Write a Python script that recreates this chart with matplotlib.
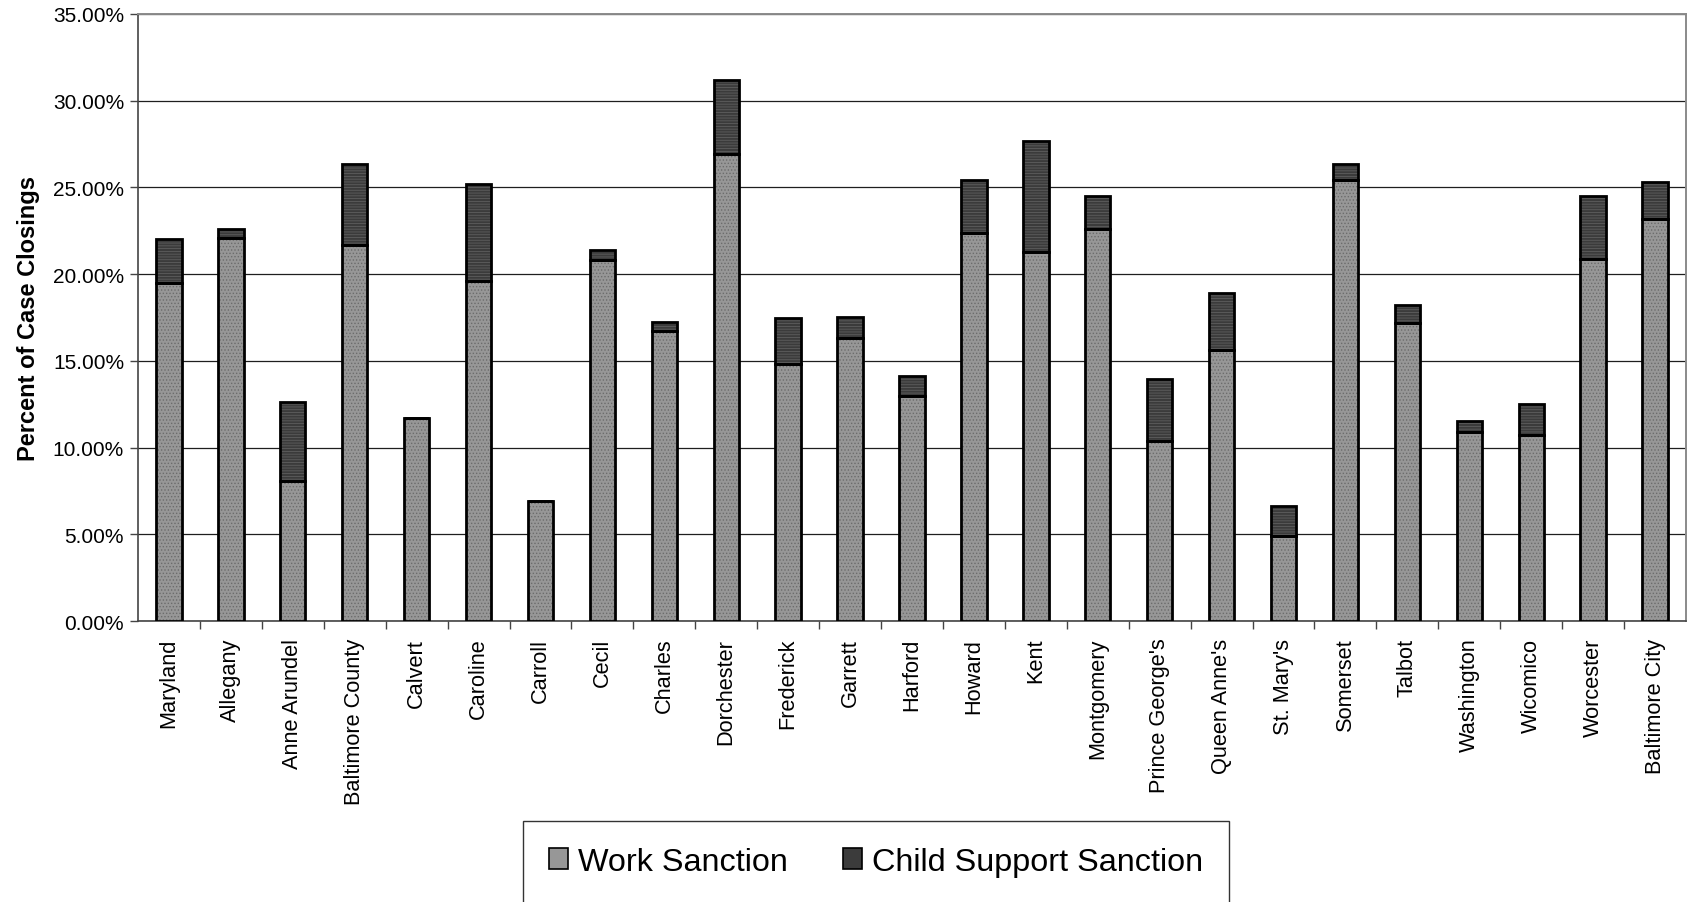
import matplotlib
matplotlib.use("Agg")
import matplotlib.pyplot as plt
from matplotlib.patches import Patch
from matplotlib.ticker import PercentFormatter

plt.rcParams['font.family'] = ['Liberation Sans', 'DejaVu Sans']
plt.rcParams['hatch.linewidth'] = 0.6

counties = ['Maryland', 'Allegany', 'Anne Arundel', 'Baltimore County', 'Calvert',
            'Caroline', 'Carroll', 'Cecil', 'Charles', 'Dorchester', 'Frederick',
            'Garrett', 'Harford', 'Howard', 'Kent', 'Montgomery', "Prince George's",
            "Queen Anne's", "St. Mary's", 'Somerset', 'Talbot', 'Washington',
            'Wicomico', 'Worcester', 'Baltimore City']

# percent of case closings
work = [19.5, 22.1, 8.1, 21.7, 11.7, 19.6, 6.9, 20.8, 16.7, 26.9, 14.8,
        16.3, 13.0, 22.4, 21.3, 22.6, 10.4, 15.6, 4.9, 25.4, 17.2, 10.9,
        10.7, 20.9, 23.2]
child = [2.5, 0.5, 4.5, 4.65, 0.0, 5.6, 0.0, 0.6, 0.55, 4.3, 2.7,
         1.25, 1.1, 3.0, 6.4, 1.9, 3.55, 3.3, 1.75, 0.95, 1.0, 0.65,
         1.8, 3.6, 2.1]

work_fill, work_hatch = '#979797', '#6c6c6c'
child_fill, child_hatch = '#3b3b3b', '#5e5e5e'

fig = plt.figure(figsize=(16.9, 9.03), dpi=100)
ax = fig.add_axes([138 / 1690, 1 - 622 / 903, (1686 - 138) / 1690, (622 - 15) / 903])

x = list(range(len(counties)))
w = 0.41

# fill with texture, then outline on top
ax.bar(x, work, w, color=work_fill, edgecolor=work_hatch, hatch='.....', linewidth=0, zorder=3)
ax.bar(x, child, w, bottom=work, color=child_fill, edgecolor=child_hatch, hatch='------',
       linewidth=0, zorder=3)
ax.bar(x, work, w, fill=False, edgecolor='black', linewidth=2.0, zorder=4)
ax.bar(x, child, w, bottom=work, fill=False, edgecolor='black', linewidth=2.0, zorder=4)

ax.set_xlim(-0.5, len(counties) - 0.5)
ax.set_ylim(0, 35)
ax.set_yticks(range(0, 36, 5))
ax.yaxis.set_major_formatter(PercentFormatter(decimals=2))
ax.yaxis.grid(True, color='#1e1e1e', linewidth=0.9, zorder=0)
ax.set_axisbelow(True)

ax.set_xticks(x)
ax.set_xticklabels(counties, rotation=90, fontsize=15.7)
ax.set_xticks([i + 0.5 for i in x[:-1]], minor=True)
ax.tick_params(axis='x', which='major', length=0, pad=12)
ax.tick_params(axis='x', which='minor', length=6, width=1, color='#444444', direction='out')
ax.tick_params(axis='y', labelsize=15, length=6, width=1, color='#444444', pad=4)

ax.set_ylabel('Percent of Case Closings', fontsize=17, fontweight='bold', labelpad=9)

for side in ['top', 'right']:
    ax.spines[side].set_color('#8a8a8a')
    ax.spines[side].set_linewidth(1.4)
ax.spines['left'].set_color('#444444')
ax.spines['bottom'].set_color('#444444')
ax.spines['left'].set_linewidth(1.2)
ax.spines['bottom'].set_linewidth(1.2)

handles = [Patch(facecolor=work_fill, edgecolor='black', linewidth=1.2),
           Patch(facecolor=child_fill, edgecolor='black', linewidth=1.2)]
leg = fig.legend(handles, ['Work Sanction', 'Child Support Sanction'], ncol=2,
                 loc='upper left', bbox_to_anchor=(523 / 1690, 1 - 822 / 903),
                 fontsize=23.3, frameon=True, fancybox=False, edgecolor='black',
                 borderpad=0.8, handlelength=0.6, handleheight=0.6,
                 handletextpad=0.3, columnspacing=1.7, borderaxespad=0)
leg.get_frame().set_linewidth(1.0)

fig.savefig('out.png', dpi=100)
